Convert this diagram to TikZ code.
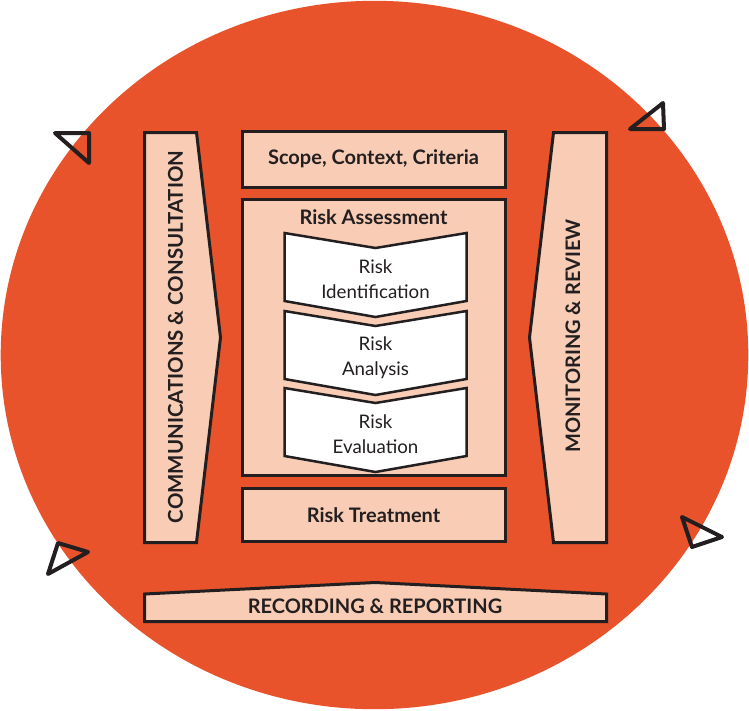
\documentclass[tikz,border=0pt]{standalone}
\usepackage{fontspec}
\setmainfont{Lato}
\definecolor{riskorange}{HTML}{E8532C}
\definecolor{peach}{HTML}{F9CDB5}
\definecolor{ink}{HTML}{231F20}
\begin{document}
\begin{tikzpicture}[x=1pt,y=-1pt,
  panel/.style={draw=ink, line width=3pt, fill=peach, line join=miter},
  boxnode/.style={panel, rectangle, minimum width=263pt, inner sep=0pt, font=\bfseries\fontsize{20}{23}\selectfont, text=ink},
  chev/.style={draw=ink, line width=2.5pt, fill=white, line join=miter},
  chevtext/.style={font=\fontsize{18.7}{25}\selectfont, text=ink, align=center, inner sep=0pt},
  boldtext/.style={font=\bfseries\fontsize{20}{23}\selectfont, text=ink, inner sep=0pt},
  marker/.style={draw=ink, line width=4pt, line join=round, line cap=round}
]
\useasboundingbox (0,0) rectangle (749,710);
% background circle
\fill[riskorange] (374.5,355) ellipse [x radius=373.8pt, y radius=354.2pt];
% triangle markers
\draw[marker] (55,133) -- (89,133) -- (89,163) -- cycle;
\draw[marker] (663,103) -- (630,129) -- (664,129) -- cycle;
\draw[marker] (58,543) -- (88,552) -- (48,574) -- cycle;
\draw[marker] (682,517) -- (722,537) -- (692,547) -- cycle;
% side arrows
\draw[panel] (144.5,132.5) -- (196.5,132.5) -- (220.5,337.5) -- (196.5,542.5) -- (144.5,542.5) -- cycle;
\node[boldtext, rotate=90, font=\bfseries\fontsize{20.4}{23}\selectfont] (comm) at (175.5,337) {COMMUNICATIONS \& CONSULTATION};
\draw[panel] (606.5,132.5) -- (553.5,132.5) -- (529.5,337.5) -- (553.5,542.5) -- (606.5,542.5) -- cycle;
\node[boldtext, rotate=90] (mon) at (573,336) {MONITORING \& REVIEW};
% recording
\draw[panel] (144.5,594) -- (375,582.5) -- (606.5,594) -- (606.5,621.5) -- (144.5,621.5) -- cycle;
\node[boldtext] (rec) at (375,606) {RECORDING \& REPORTING};
% central boxes
\node[boxnode, minimum height=56pt] (scope) at (373.5,159) {Scope, Context, Criteria};
\node[boxnode, minimum height=276pt] (assess) at (373.5,337.5) {};
\node[boldtext] (assesslabel) at (373.5,217) {Risk Assessment};
\node[boxnode, minimum height=53pt] (treat) at (373.5,515) {Risk Treatment};
% chevrons
\foreach \y/\name/\txt in {233/ident/{Risk\\Identification}, 311/analysis/{Risk\\Analysis}, 388/evaluation/{Risk\\Evaluation}}{
  \draw[chev] (284.5,\y) -- (375.5,\y+15) -- (466.5,\y) -- (466.5,\y+68) -- (375.5,\y+84) -- (284.5,\y+68) -- cycle;
  \node[chevtext] (\name) at (375.5,\y+46.5) {\txt};
}
\end{tikzpicture}
\end{document}
